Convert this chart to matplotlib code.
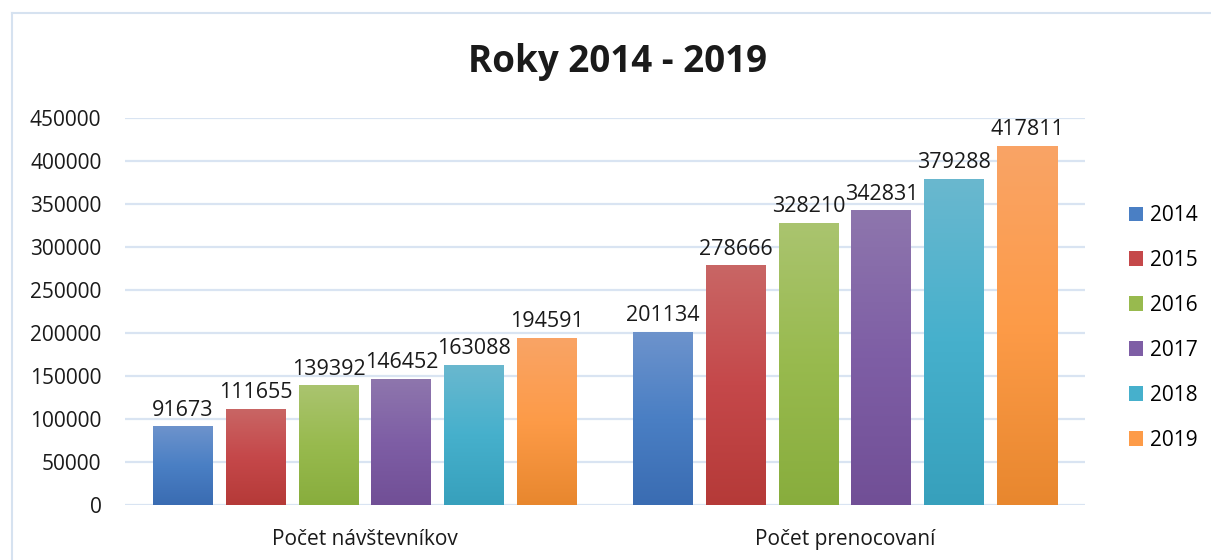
import matplotlib.pyplot as plt
import numpy as np
from matplotlib.colors import LinearSegmentedColormap
from matplotlib.lines import Line2D
from matplotlib.patches import Patch

categories = ["Počet návštevníkov", "Počet prenocovaní"]
years = ["2014", "2015", "2016", "2017", "2018", "2019"]
visitors = [91673, 111655, 139392, 146452, 163088, 194591]
overnights = [201134, 278666, 328210, 342831, 379288, 417811]
yticks = [0, 50000, 100000, 150000, 200000, 250000, 300000, 350000, 400000, 450000]

# top, middle, bottom colours of each year's gradient
gradients = [
    ("#6d93cc", "#4a7fc4", "#3a6cb2"),
    ("#c96665", "#c5484a", "#b53a38"),
    ("#aac46f", "#98ba4e", "#88ad3d"),
    ("#8e76ad", "#7e5ea5", "#714f96"),
    ("#6ab8cf", "#46b0cc", "#37a0bc"),
    ("#f9a466", "#fd9b48", "#e8872e"),
]

plt.rcParams['font.family'] = ['Open Sans', 'DejaVu Sans']

fig = plt.figure(figsize=(12.11, 5.6), dpi=100)
ax = fig.add_axes([125 / 1211, 55 / 560, 960 / 1211, 387 / 560])

grid_color = "#d9e4f2"
x = np.arange(len(categories))
step = 0.152
width = 0.125

for i, year in enumerate(years):
    vals = [visitors[i], overnights[i]]
    offs = x + (i - 2.5) * step
    bars = ax.bar(offs, vals, width, color=gradients[i][1], label=year, zorder=2)
    cmap = LinearSegmentedColormap.from_list(year, list(gradients[i]))
    for b, v in zip(bars, vals):
        # row 0 sits at the bottom of the bar -> darkest colour
        grad = np.linspace(1, 0, 256).reshape(-1, 1)
        img = ax.imshow(grad, cmap=cmap, aspect="auto", zorder=3, vmin=0, vmax=1,
                        extent=[b.get_x(), b.get_x() + b.get_width(), 0, v],
                        origin="lower")
        img.set_clip_path(b)
        ax.annotate(str(v), (b.get_x() + b.get_width() / 2, v),
                    xytext=(0, 4), textcoords="offset points",
                    ha="center", va="bottom", fontsize=15.5, color="#1a1a1a", zorder=4)

ax.set_xlim(-0.5, 1.5)
ax.set_ylim(0, 450000)
ax.set_yticks(yticks)
ax.set_yticklabels([str(t) for t in yticks])
ax.set_xticks(x)
ax.set_xticklabels(categories)
ax.tick_params(axis="both", length=0, labelsize=15, colors="#1a1a1a")
ax.tick_params(axis="y", pad=17)
ax.tick_params(axis="x", pad=17)
for s in ax.spines.values():
    s.set_visible(False)
ax.yaxis.grid(True, color=grid_color, linewidth=1.6, zorder=0)
ax.set_axisbelow(True)

handles = [Patch(facecolor=g[1], label=y) for g, y in zip(gradients, years)]
leg = fig.legend(handles=handles, loc="center left",
                 bbox_to_anchor=(1110 / 1211, 1 - 328 / 560),
                 frameon=False, fontsize=15, handlelength=0.7, handleheight=0.7,
                 handletextpad=0.3, labelspacing=1.15)

fig.text(617 / 1211, 1 - 62 / 560, "Roky 2014 - 2019", ha="center", va="center",
         fontsize=26.5, fontweight="bold", color="#1a1a1a")

# chart border (only top and left visible in the crop)
border = "#d6e2f0"
fig.add_artist(Line2D([12 / 1211, 1], [1 - 13 / 560, 1 - 13 / 560], color=border, lw=1.5))
fig.add_artist(Line2D([12 / 1211, 12 / 1211], [0, 1 - 13 / 560], color=border, lw=1.5))

fig.savefig("out.png", dpi=100)
